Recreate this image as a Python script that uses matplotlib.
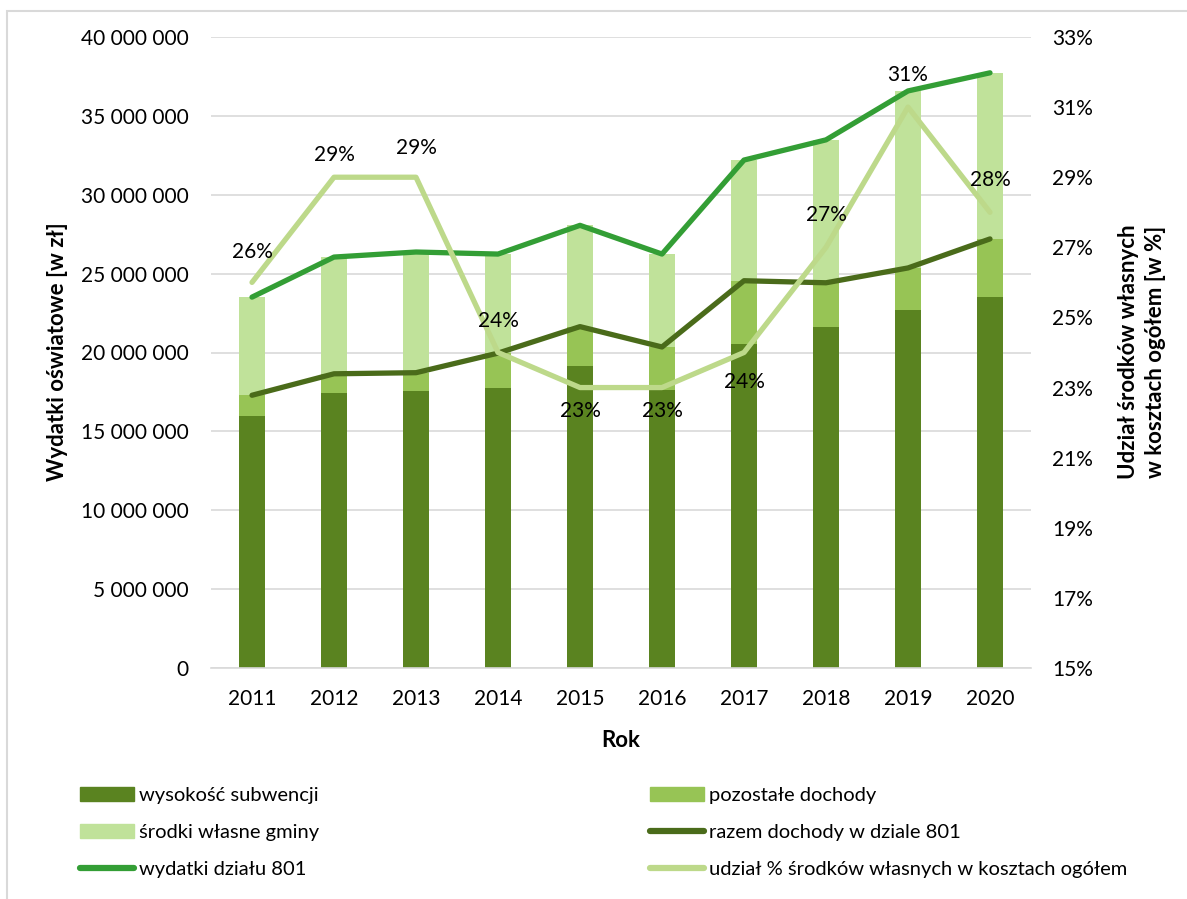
import matplotlib
matplotlib.use("Agg")
import matplotlib.pyplot as plt
from matplotlib.patches import Rectangle, Patch
from matplotlib.lines import Line2D
from matplotlib.ticker import FuncFormatter, FixedLocator

plt.rcParams['font.family'] = ['Lato', 'DejaVu Sans']

years = ['2011', '2012', '2013', '2014', '2015', '2016', '2017', '2018', '2019', '2020']
subwencja = [15.95e6, 17.45e6, 17.55e6, 17.77e6, 19.16e6, 17.62e6, 20.57e6, 21.62e6, 22.71e6, 23.54e6]
razem_dochody = [17.29e6, 18.65e6, 18.72e6, 19.96e6, 21.64e6, 20.35e6, 24.55e6, 24.42e6, 25.36e6, 27.20e6]
wydatki = [23.51e6, 26.05e6, 26.37e6, 26.24e6, 28.06e6, 26.24e6, 32.20e6, 33.48e6, 36.58e6, 37.73e6]
udzial = [26, 29, 29, 24, 23, 23, 24, 27, 31, 28]

# label offsets (points) above (+) / below (-) the percent line
label_offset = [22, 16, 21, 23, -17, -17, -21, 23, 23, 23]

pozostale = [r - s for r, s in zip(razem_dochody, subwencja)]
srodki_wlasne = [w - r for w, r in zip(wydatki, razem_dochody)]

c_dark = '#5a8320'
c_mid = '#97c455'
c_light = '#c0e29a'
c_razem = '#4a6b1a'
c_wydatki = '#339e35'
c_udzial = '#bdd98a'
grid_c = '#d9d9d9'

W, H = 1187, 899
fig = plt.figure(figsize=(W / 100, H / 100), dpi=100)
ax = fig.add_axes([211 / W, 1 - 668 / H, (1031 - 211) / W, (668 - 37) / H])
ax2 = ax.twinx()

x = list(range(len(years)))
bw = 0.32
ax.bar(x, subwencja, bw, color=c_dark, zorder=2)
ax.bar(x, pozostale, bw, bottom=subwencja, color=c_mid, zorder=2)
ax.bar(x, srodki_wlasne, bw, bottom=razem_dochody, color=c_light, zorder=2)
ax.plot(x, razem_dochody, color=c_razem, lw=3.8, solid_capstyle='round', solid_joinstyle='round', zorder=3)
ax.plot(x, wydatki, color=c_wydatki, lw=3.8, solid_capstyle='round', solid_joinstyle='round', zorder=3)
ax2.plot(x, udzial, color=c_udzial, lw=3.8, solid_capstyle='round', solid_joinstyle='round', zorder=3)

for xi, v, off in zip(x, udzial, label_offset):
    ax2.annotate(f'{v}%', (xi, v), xytext=(0, off), textcoords='offset points',
                 ha='center', va='center', fontsize=15, color='black')

ax.set_xlim(-0.5, len(years) - 0.5)
ax.set_ylim(0, 40e6)
ax.yaxis.set_major_locator(FixedLocator([i * 5e6 for i in range(9)]))
ax.yaxis.set_major_formatter(FuncFormatter(lambda v, p: f'{int(v):,}'.replace(',', ' ')))
ax2.set_ylim(15, 33)
ax2.yaxis.set_major_locator(FixedLocator(list(range(15, 34, 2))))
ax2.yaxis.set_major_formatter(FuncFormatter(lambda v, p: f'{int(v)}%'))
ax.set_xticks(x)
ax.set_xticklabels(years)

ax.grid(axis='y', color=grid_c, lw=1.2, zorder=0)
ax.set_axisbelow(True)
for a in (ax, ax2):
    for s in ['top', 'right', 'left', 'bottom']:
        a.spines[s].set_visible(False)
ax.spines['bottom'].set_visible(True)
ax.spines['bottom'].set_color(grid_c)
ax.spines['bottom'].set_linewidth(1.2)

ax.tick_params(axis='y', length=0, pad=16, labelsize=15)
ax.tick_params(axis='x', length=0, pad=15, labelsize=15)
ax2.tick_params(axis='y', length=0, pad=15, labelsize=15)

ax.set_xlabel('Rok', fontsize=16, fontweight='bold', labelpad=15)
fig.text(57 / W, 1 - 352 / H, 'Wydatki oświatowe [w zł]', rotation=90, ha='center', va='center',
         fontsize=16, fontweight='bold')
fig.text(1142 / W, 1 - 352 / H, 'Udział środków własnych\nw kosztach ogółem [w %]', rotation=90,
         ha='center', va='center', fontsize=16, fontweight='bold', linespacing=1.3)

h1 = [Patch(color=c_dark, label='wysokość subwencji'),
      Patch(color=c_light, label='środki własne gminy'),
      Line2D([], [], color=c_wydatki, lw=4.5, solid_capstyle='round', label='wydatki działu 801')]
h2 = [Patch(color=c_mid, label='pozostałe dochody'),
      Line2D([], [], color=c_razem, lw=4.5, solid_capstyle='round', label='razem dochody w dziale 801'),
      Line2D([], [], color=c_udzial, lw=4.5, solid_capstyle='round', label='udział % środków własnych w kosztach ogółem')]
kw = dict(frameon=False, fontsize=14.5, handlelength=2.7, handleheight=0.72, handletextpad=0.25,
          labelspacing=0.98, borderpad=0, borderaxespad=0, loc='upper left')
fig.legend(handles=h1, bbox_to_anchor=(80 / W, 1 - 787 / H), **kw)
fig.legend(handles=h2, bbox_to_anchor=(650 / W, 1 - 787 / H), **kw)

fig.patches.append(Rectangle((7 / W, -0.05), 1.2, 1 - 11 / H + 0.05, transform=fig.transFigure,
                             fill=False, edgecolor=grid_c, lw=1.5))

fig.savefig('out.png', dpi=100)
